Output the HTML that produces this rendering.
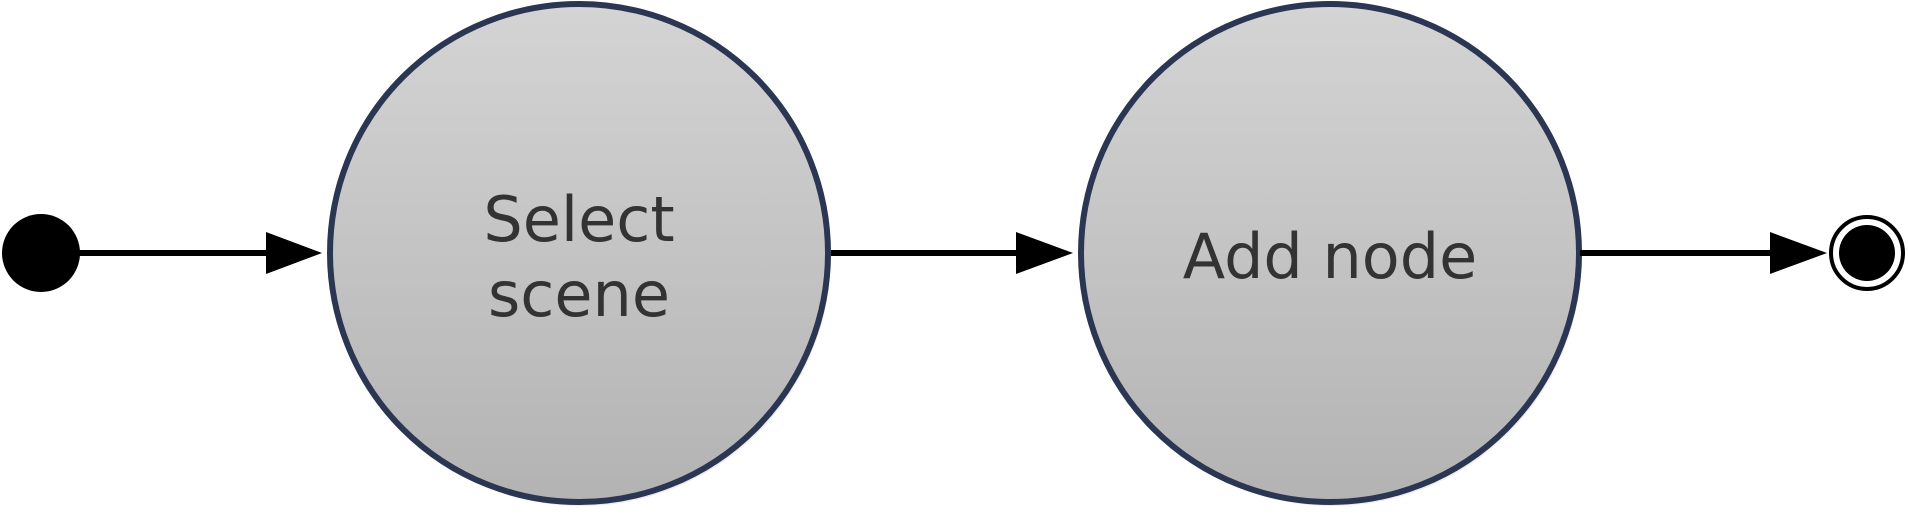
<!DOCTYPE html>
<html><head><style>html,body{margin:0;padding:0;background:#fff;}</style></head>
<body>
<svg width="1908" height="512" viewBox="0 0 1908 512" xmlns="http://www.w3.org/2000/svg">
<defs>
<linearGradient id="g" x1="0" y1="0" x2="0" y2="1">
<stop offset="0" stop-color="#d4d4d4"/><stop offset="1" stop-color="#b3b3b3"/>
</linearGradient>
</defs>
<circle cx="41" cy="253" r="39" fill="#000"/>
<line x1="70" y1="253" x2="268" y2="253" stroke="#000" stroke-width="6"/>
<polygon points="266,232 322,253 266,274" fill="#000"/>
<circle cx="581" cy="256" r="250" fill="#ddd" opacity="0.6"/>
<circle cx="579" cy="253" r="249" fill="url(#g)" stroke="#2b3653" stroke-width="6"/>
<g font-family="'DejaVu Sans',sans-serif" font-size="62" fill="#333" text-anchor="middle">
<text x="579" y="241">Select</text>
<text x="579" y="316">scene</text>
</g>
<line x1="831" y1="253" x2="1016" y2="253" stroke="#000" stroke-width="6"/>
<polygon points="1016,232 1073,253 1016,274" fill="#000"/>
<circle cx="1332" cy="256" r="250" fill="#ddd" opacity="0.6"/>
<circle cx="1330" cy="253" r="249" fill="url(#g)" stroke="#2b3653" stroke-width="6"/>
<text x="1330" y="278" font-family="'DejaVu Sans',sans-serif" font-size="62" fill="#333" text-anchor="middle">Add node</text>
<line x1="1580" y1="253" x2="1772" y2="253" stroke="#000" stroke-width="6"/>
<polygon points="1770,232 1827,253 1770,274" fill="#000"/>
<circle cx="1867" cy="253" r="36" fill="#fff" stroke="#000" stroke-width="4"/>
<circle cx="1867" cy="253" r="28" fill="#000"/>
</svg>
</body></html>
